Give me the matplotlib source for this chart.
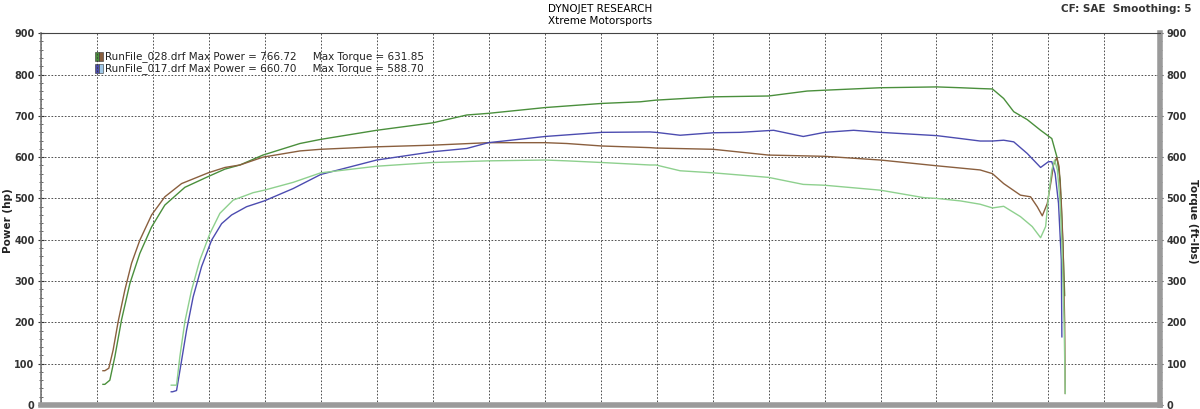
import matplotlib.pyplot as plt
from matplotlib.patches import Rectangle

# x is an unlabelled run axis (20 grid divisions)
pwr028_x = [1.11, 1.144, 1.233, 1.323, 1.442, 1.591, 1.769, 1.979, 2.216, 2.574, 2.99, 3.289,
            3.557, 3.968, 4.629, 5.0, 6.0, 7.0, 7.609, 7.995, 9.008, 10.02, 10.71, 10.99,
            12.01, 13.0, 13.69, 14.0, 15.0, 16.01, 16.43, 16.78, 17.0, 17.2, 17.38, 17.62,
            17.86, 17.99, 18.06, 18.15, 18.21, 18.24, 18.27, 18.29]
pwr028_y = [50, 50, 60, 117, 206, 294, 367, 431, 484, 527, 553, 571,
            581, 605, 633, 643, 665, 683, 702, 706, 720, 730, 734, 738,
            746, 748, 760, 762, 768, 770, 768, 766, 765, 742, 710, 691,
            665, 652, 645, 601, 544, 448, 343, 265]

trq028_x = [1.11, 1.144, 1.215, 1.292, 1.382, 1.501, 1.621, 1.769, 1.979, 2.216, 2.515, 2.99,
            3.289, 3.557, 3.968, 4.629, 5.0, 6.0, 7.0, 7.995, 9.008, 9.396, 10.02, 10.88,
            10.99, 12.01, 13.0, 14.0, 15.0, 16.01, 16.78, 17.0, 17.2, 17.5, 17.68, 17.8,
            17.89, 17.98, 18.05, 18.09, 18.15, 18.19, 18.23, 18.26, 18.29, 18.3]
trq028_y = [83, 83, 89, 133, 202, 278, 343, 399, 460, 504, 536, 562,
            575, 581, 600, 615, 619, 625, 629, 635, 635, 633, 627, 623,
            622, 619, 605, 602, 593, 579, 569, 560, 536, 508, 504, 480,
            458, 488, 544, 581, 599, 577, 488, 391, 200, 28]

pwr017_x = [2.33, 2.354, 2.425, 2.497, 2.604, 2.722, 2.872, 3.051, 3.23, 3.408, 3.676, 3.991,
            4.509, 5.0, 6.0, 7.0, 7.609, 7.995, 9.008, 10.02, 10.88, 10.99, 11.42, 12.01,
            12.49, 13.09, 13.62, 14.0, 14.52, 15.0, 16.01, 16.43, 16.78, 17.0, 17.2, 17.38,
            17.62, 17.86, 18.0, 18.06, 18.12, 18.18, 18.23, 18.24]
pwr017_y = [32, 32, 35, 93, 181, 262, 335, 399, 439, 460, 480, 494,
            524, 558, 593, 613, 621, 635, 650, 660, 661, 660, 653, 659,
            660, 665, 650, 660, 665, 660, 652, 645, 639, 639, 641, 637,
            609, 575, 589, 589, 560, 488, 351, 165]

trq017_x = [2.33, 2.425, 2.484, 2.574, 2.693, 2.842, 3.021, 3.199, 3.437, 3.794, 3.991, 4.509,
            5.0, 6.0, 7.0, 7.995, 9.008, 9.396, 10.02, 10.88, 10.99, 11.42, 12.01, 13.0,
            13.62, 14.0, 15.0, 15.77, 16.01, 16.43, 16.78, 17.0, 17.2, 17.5, 17.71, 17.86,
            17.95, 18.0, 18.06, 18.11, 18.16, 18.21, 18.24, 18.28, 18.3]
trq017_y = [48, 48, 117, 202, 278, 351, 415, 464, 496, 514, 520, 539,
            562, 578, 587, 591, 593, 591, 587, 581, 581, 567, 562, 551,
            534, 532, 520, 502, 500, 494, 486, 477, 481, 456, 432, 405,
            432, 504, 569, 593, 569, 488, 391, 200, 28]

legend_lines = [
    "RunFile_028.drf Max Power = 766.72     Max Torque = 631.85",
    "RunFile_017.drf Max Power = 660.70     Max Torque = 588.70",
]

c_pwr028 = "#4a8f3c"
c_trq028 = "#8a5f3e"
c_pwr017 = "#4c4cb0"
c_trq017 = "#8ed08e"

fig = plt.figure(figsize=(12, 4.09), dpi=100)
ax = fig.add_axes([0.034, 0.0098, 0.933, 0.909])

ax.plot(pwr028_x, pwr028_y, color=c_pwr028, lw=1.0)
ax.plot(trq028_x, trq028_y, color=c_trq028, lw=1.0)
ax.plot(pwr017_x, pwr017_y, color=c_pwr017, lw=1.0)
ax.plot(trq017_x, trq017_y, color=c_trq017, lw=1.0)

ax.set_xlim(0, 20)
ax.set_ylim(0, 900)
ax.set_xticks(range(0, 21))
ax.set_xticklabels([])
ax.set_yticks(range(0, 901, 100))
ax.set_yticks(range(0, 901, 20), minor=True)
ax.grid(True, which="major", color="#333333", ls=(0, (2, 2)), lw=0.6)
ax.tick_params(axis="x", length=0)
ax.tick_params(axis="y", which="major", length=5, labelsize=7, pad=2,
               colors="#333333", left=True, right=True, labelleft=True, labelright=True,
               direction="inout")
ax.tick_params(axis="y", which="minor", length=3, left=True, right=True,
               direction="inout", color="#555555")
for lbl in ax.get_yticklabels():
    lbl.set_fontweight("bold")

ax.spines["top"].set_color("#444444")
ax.spines["top"].set_linewidth(0.8)
ax.spines["left"].set_color("#777777")
ax.spines["left"].set_linewidth(1.2)
ax.spines["right"].set_color("#9a9a9a")
ax.spines["right"].set_linewidth(4)
ax.spines["bottom"].set_color("#9a9a9a")
ax.spines["bottom"].set_linewidth(4)

fig.text(0.007, 0.46, "Power (hp)", rotation=90, fontsize=7.5, fontweight="bold",
         va="center", ha="center", color="#222222")
fig.text(0.994, 0.46, "Torque (ft-lbs)", rotation=-90, fontsize=7.5, fontweight="bold",
         va="center", ha="center", color="#222222")

# legend block
for i, (txt, ca, cb) in enumerate(zip(legend_lines, [c_pwr028, c_pwr017],
                                      [c_trq028, "#9fc8e8"])):
    y = 0.938 - i * 0.033
    ax.add_patch(Rectangle((0.0487, y - 0.012), 0.0035, 0.024, transform=ax.transAxes,
                           facecolor=ca, edgecolor="#333333", lw=0.4, clip_on=False))
    ax.add_patch(Rectangle((0.0522, y - 0.012), 0.0035, 0.024, transform=ax.transAxes,
                           facecolor=cb, edgecolor="#333333", lw=0.4, clip_on=False))
    ax.text(0.057, y, txt, transform=ax.transAxes, fontsize=7.5, va="center",
            ha="left", color="#222222")

fig.text(0.5, 0.978, "DYNOJET RESEARCH", ha="center", va="center", fontsize=7.5)
fig.text(0.5, 0.948, "Xtreme Motorsports", ha="center", va="center", fontsize=7.5)
fig.text(0.993, 0.978, "CF: SAE  Smoothing: 5", ha="right", va="center",
         fontsize=7.5, fontweight="bold", color="#333333")

fig.savefig("out.png", dpi=100)
